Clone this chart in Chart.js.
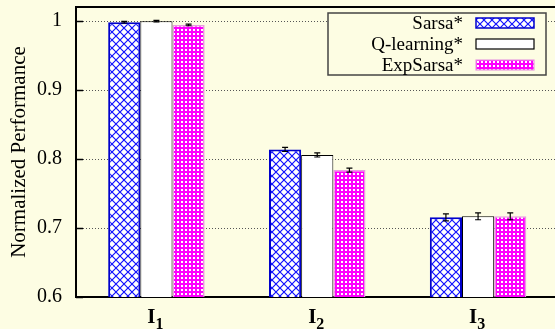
<!DOCTYPE html>
<html>
<head>
<meta charset="utf-8">
<script src="https://cdn.jsdelivr.net/npm/chart.js@4"></script>
<style>
    html, body { margin: 0; padding: 0; background: #fdfde3; overflow: hidden; }
    #wrap { width: 560px; height: 329px; }
</style>
</head>
<body>
<div id="wrap"><canvas id="chart" width="560" height="329"></canvas></div>
<script>
const categories = ['I1', 'I2', 'I3'];
const seriesNames = ['Sarsa*', 'Q-learning*', 'ExpSarsa*'];
const sarsa = [0.9985, 0.8140, 0.7155];
const qlearning = [1.0000, 0.8060, 0.7170];
const expsarsa = [0.9945, 0.7840, 0.7170];
const sarsaErr = [0.0012, 0.003, 0.005];
const qlearningErr = [0.0012, 0.003, 0.005];
const expsarsaErr = [0.0012, 0.003, 0.005];
const yTicks = [0.6, 0.7, 0.8, 0.9, 1.0];

const BG = '#fdfde3';
const FONT = '"Liberation Serif", "Times New Roman", serif';

const canvas = document.getElementById('chart');
const ctx = canvas.getContext('2d');

function hatchPattern() {
    const c = document.createElement('canvas');
    c.width = 8; c.height = 8;
    const g = c.getContext('2d');
    g.fillStyle = '#ffffff';
    g.fillRect(0, 0, 8, 8);
    g.strokeStyle = '#1010ff';
    g.lineWidth = 1.2;
    g.beginPath();
    g.moveTo(0, 0); g.lineTo(8, 8);
    g.moveTo(8, 0); g.lineTo(0, 8);
    g.stroke();
    return ctx.createPattern(c, 'repeat');
}

function checkPattern() {
    const c = document.createElement('canvas');
    c.width = 4; c.height = 4;
    const g = c.getContext('2d');
    g.fillStyle = '#ff00ff';
    g.fillRect(0, 0, 4, 4);
    g.fillStyle = '#ffffff';
    g.fillRect(1, 1, 2, 2);
    return ctx.createPattern(c, 'repeat');
}

const errors = [sarsaErr, qlearningErr, expsarsaErr];

// error bars, top frame, inner ticks, subscripted category labels and the boxed legend
const extras = {
    id: 'extras',
    afterDatasetsDraw(chart) {
        const c = chart.ctx;
        const x = chart.scales.x;
        const y = chart.scales.y;
        const area = chart.chartArea;
        c.save();
        c.strokeStyle = '#000';
        c.lineWidth = 1.2;
        chart.data.datasets.forEach((ds, i) => {
            chart.getDatasetMeta(i).data.forEach((bar, j) => {
                const v = ds.data[j];
                const e = errors[i][j];
                const y1 = y.getPixelForValue(v + e);
                const y2 = y.getPixelForValue(v - e);
                c.beginPath();
                c.moveTo(bar.x, y1); c.lineTo(bar.x, y2);
                c.moveTo(bar.x - 3, y1); c.lineTo(bar.x + 3, y1);
                c.moveTo(bar.x - 3, y2); c.lineTo(bar.x + 3, y2);
                c.stroke();
            });
        });

        // inner tick marks on the left axis
        c.lineWidth = 1.5;
        yTicks.forEach(t => {
            const py = Math.round(y.getPixelForValue(t)) + 0.5;
            c.beginPath();
            c.moveTo(area.left, py); c.lineTo(area.left + 7, py);
            c.stroke();
        });

        // top frame
        c.lineWidth = 2;
        c.beginPath();
        c.moveTo(area.left - 1, area.top); c.lineTo(area.right + 2, area.top);
        c.stroke();

        // category labels: I with subscript index
        c.fillStyle = '#000';
        c.textBaseline = 'alphabetic';
        categories.forEach((lab, j) => {
            const cx = x.getPixelForValue(j);
            const main = lab.slice(0, 1);
            const sub = lab.slice(1);
            c.font = 'bold 21px ' + FONT;
            const w1 = c.measureText(main).width;
            c.font = 'bold 16px ' + FONT;
            const w2 = c.measureText(sub).width;
            const x0 = cx - (w1 + w2) / 2 - 1;
            c.font = 'bold 21px ' + FONT;
            c.textAlign = 'left';
            c.fillText(main, x0, 322.5);
            c.font = 'bold 16px ' + FONT;
            c.fillText(sub, x0 + w1, 328.5);
        });

        // legend box
        const bx = 328, by = 13, bw = 218, bh = 62;
        c.fillStyle = BG;
        c.fillRect(bx, by, bw, bh);
        c.strokeStyle = '#444';
        c.lineWidth = 1.5;
        c.strokeRect(bx, by, bw, bh);
        c.font = '19px ' + FONT;
        c.textAlign = 'right';
        c.textBaseline = 'middle';
        chart.data.datasets.forEach((ds, i) => {
            const cy = by + 10 + i * 21;
            c.fillStyle = '#000';
            c.fillText(ds.label, 463, cy + 1);
            c.fillStyle = ds.backgroundColor;
            c.fillRect(476, cy - 5, 58, 10);
            c.strokeStyle = ds.borderColor;
            c.lineWidth = i === 0 ? 1.5 : 1.2;
            c.strokeRect(476, cy - 5, 58, 10);
        });
        c.restore();
    }
};

const chart = new Chart(canvas, {
    type: 'bar',
    data: {
        labels: categories,
        datasets: [
            {
                label: seriesNames[0],
                data: sarsa,
                backgroundColor: hatchPattern(),
                borderColor: '#0000cc',
                borderWidth: 2
            },
            {
                label: seriesNames[1],
                data: qlearning,
                backgroundColor: '#ffffff',
                borderColor: '#000000',
                borderWidth: 1
            },
            {
                label: seriesNames[2],
                data: expsarsa,
                backgroundColor: checkPattern(),
                borderColor: '#e89ce0',
                borderWidth: 1.5
            }
        ]
    },
    plugins: [extras],
    options: {
        responsive: false,
        animation: false,
        layout: { padding: { top: 7, right: 1.5, left: 0, bottom: 0 } },
        datasets: {
            bar: { categoryPercentage: 0.6, barPercentage: 1.0 }
        },
        plugins: {
            legend: { display: false },
            tooltip: { enabled: false }
        },
        scales: {
            x: {
                grid: { display: false, drawTicks: false },
                border: { color: '#000', width: 2 },
                ticks: { display: false },
                afterFit(scale) {
                    scale.height = 32;
                    scale.paddingLeft = 0;
                    scale.paddingRight = 0;
                }
            },
            y: {
                min: 0.6,
                max: 1.0205,
                afterBuildTicks(scale) {
                    scale.ticks = yTicks.map(v => ({ value: v }));
                },
                grid: {
                    color: '#555',
                    lineWidth: 1,
                    drawTicks: false
                },
                border: { color: '#000', width: 2, dash: [1, 2] },
                ticks: {
                    color: '#000',
                    padding: 14,
                    font: { family: FONT, size: 20 },
                    callback: v => String(+v.toFixed(1))
                },
                title: {
                    display: true,
                    text: 'Normalized Performance',
                    color: '#000',
                    padding: { top: 7, bottom: 0 },
                    font: { family: FONT, size: 21 }
                },
                afterFit(scale) {
                    scale.width = 76;
                    scale.paddingTop = 0;
                    scale.paddingBottom = 0;
                }
            }
        }
    }
});
</script>
</body>
</html>
